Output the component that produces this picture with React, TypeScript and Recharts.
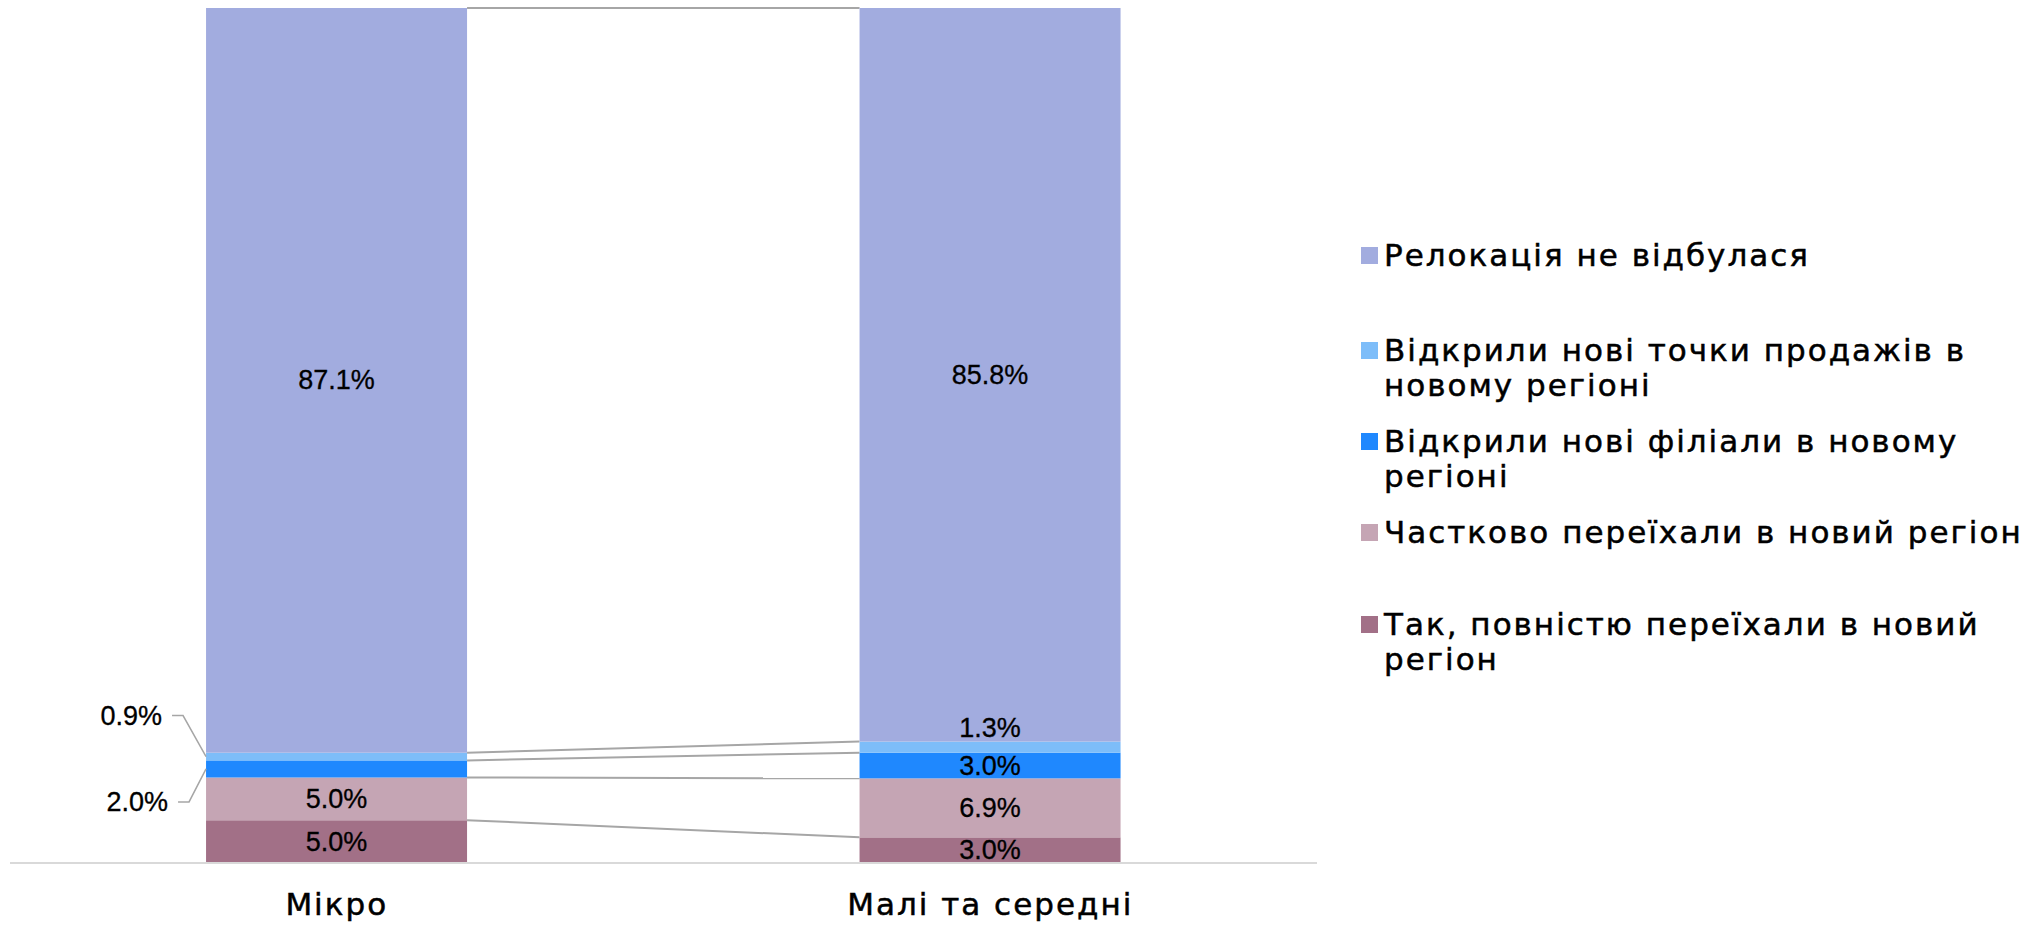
import React from 'react';
import { BarChart, Bar, XAxis, YAxis, LabelList } from 'recharts';

// ---- data ----
const categories = ['Мікро', 'Малі та середні'];
const fullyMoved = [5.0, 3.0];
const partlyMoved = [5.0, 6.9];
const newBranches = [2.0, 3.0];
const newSalesPoints = [0.9, 1.3];
const noRelocation = [87.1, 85.8];

const seriesKeys = ['fullyMoved', 'partlyMoved', 'newBranches', 'newSalesPoints', 'noRelocation'];
const seriesNames = [
  'Так, повністю переїхали в новий регіон',
  'Частково переїхали в новий регіон',
  'Відкрили нові філіали в новому регіоні',
  'Відкрили нові точки продажів в новому регіоні',
  'Релокація не відбулася',
];
const seriesValues = [fullyMoved, partlyMoved, newBranches, newSalesPoints, noRelocation];
const seriesColors = ['#A27087', '#C5A5B4', '#1F88FE', '#7DBDF9', '#A2ACDF'];

const data = categories.map((name, i) => {
  const row: any = { name };
  seriesKeys.forEach((k, s) => (row[k] = seriesValues[s][i]));
  return row;
});

// cumulative tops per series per category
const cumTops = seriesValues.map((_, s) =>
  categories.map((__, i) => seriesValues.slice(0, s + 1).reduce((a, arr) => a + arr[i], 0))
);

// ---- layout ----
const W = 2031;
const H = 926;
const M = { top: 8, right: 714, left: 10, bottom: 0 };
const X_AXIS_H = 63;
const BAND = (W - M.left - M.right) / categories.length;
const LABEL_FONT = '"Liberation Sans", Arial, sans-serif';
const TEXT_FONT = '"DejaVu Sans", sans-serif';
const LINE_COLOR = '#A6A6A6';
const legendTops = [237.5, 332.5, 423.5, 514.5, 606.5];

const callouts: Record<string, { textDx: number; dy: number; l1: number; l2: number }> = {
  newSalesPoints: { textDx: -44, dy: -41, l1: -34, l2: -23 },
  newBranches: { textDx: -38, dy: 33, l1: -28, l2: -17 },
};

const makeShape = (s: number) => (props: any) => {
  const { x, y, width, height, index, fill } = props;
  const v0 = seriesValues[s][0];
  let line = null;
  if (index === 0 && height > 0) {
    const low = cumTops[s][0] - v0;
    const pix = (c: number) => y + height - ((c - low) * height) / v0;
    line = (
      <line
        x1={x + width}
        y1={y}
        x2={x + BAND}
        y2={pix(cumTops[s][1])}
        stroke={LINE_COLOR}
        strokeWidth={2}
      />
    );
  }
  return (
    <g>
      <rect x={x} y={y} width={width} height={height} fill={fill} />
      {line}
    </g>
  );
};

const makeLabel = (s: number) => (props: any) => {
  const vb = props.viewBox || {};
  const x = props.x ?? vb.x;
  const y = props.y ?? vb.y;
  const width = props.width ?? vb.width;
  const height = props.height ?? vb.height;
  const { index, value } = props;
  const text = `${Number(value).toFixed(1)}%`;
  const cx = x + width / 2;
  const cy = y + height / 2;
  const common = {
    fontFamily: LABEL_FONT,
    fontSize: 27,
    fill: '#000',
    stroke: '#000',
    strokeWidth: 0.3,
    dominantBaseline: 'central' as any,
  };
  if (height >= 20) {
    return (
      <text x={cx} y={cy} textAnchor="middle" {...common}>
        {text}
      </text>
    );
  }
  const co = callouts[seriesKeys[s]];
  if (index === 0 && co) {
    const ty = cy + co.dy;
    return (
      <g>
        <polyline
          points={`${x + co.l1},${ty} ${x + co.l2},${ty} ${x},${cy}`}
          fill="none"
          stroke={LINE_COLOR}
          strokeWidth={1.5}
        />
        <text x={x + co.textDx} y={ty} textAnchor="end" {...common}>
          {text}
        </text>
      </g>
    );
  }
  return (
    <text x={cx} y={y - 14} textAnchor="middle" {...common}>
      {text}
    </text>
  );
};

const CategoryTick = (props: any) => {
  const { x, y, payload } = props;
  return (
    <text
      x={x}
      y={y + 52}
      textAnchor="middle"
      fontFamily={TEXT_FONT}
      fontSize={31}
      letterSpacing={2}
      fill="#000"
      stroke="#000"
      strokeWidth={0.5}
    >
      {payload.value}
    </text>
  );
};

const legendOrder = [4, 3, 2, 1, 0];

export default function App() {
  return (
    <div style={{ position: 'absolute', left: 0, top: 0, width: W, height: H, background: '#fff' }}>
      <BarChart width={W} height={H} data={data} margin={M} barCategoryGap="30%">
        <XAxis
          dataKey="name"
          height={X_AXIS_H}
          axisLine={{ stroke: '#D9D9D9', strokeWidth: 2 }}
          tickLine={false}
          tickSize={0}
          tickMargin={0}
          tick={<CategoryTick />}
          interval={0}
        />
        <YAxis hide domain={[0, 100]} type="number" />
        {seriesKeys.map((k, s) => (
          <Bar
            key={k}
            dataKey={k}
            name={seriesNames[s]}
            stackId="a"
            fill={seriesColors[s]}
            isAnimationActive={false}
            shape={makeShape(s)}
          >
            <LabelList dataKey={k} content={makeLabel(s)} />
          </Bar>
        ))}
      </BarChart>
      <div style={{ position: 'absolute', left: 0, top: 0 }}>
        {legendOrder.map((s, i) => (
          <div
            key={s}
            style={{
              position: 'absolute',
              left: 1361,
              top: legendTops[i],
              width: 670,
              display: 'flex',
              alignItems: 'flex-start',
            }}
          >
            <div
              style={{
                width: 17,
                height: 17,
                marginTop: 9,
                background: seriesColors[s],
                flex: '0 0 17px',
              }}
            />
            <div
              style={{
                marginLeft: 6,
                width: 645,
                fontFamily: TEXT_FONT,
                fontSize: 31,
                letterSpacing: 2,
                lineHeight: '35px',
                color: '#000',
                WebkitTextStroke: '0.5px #000',
              }}
            >
              {seriesNames[s]}
            </div>
          </div>
        ))}
      </div>
    </div>
  );
}
